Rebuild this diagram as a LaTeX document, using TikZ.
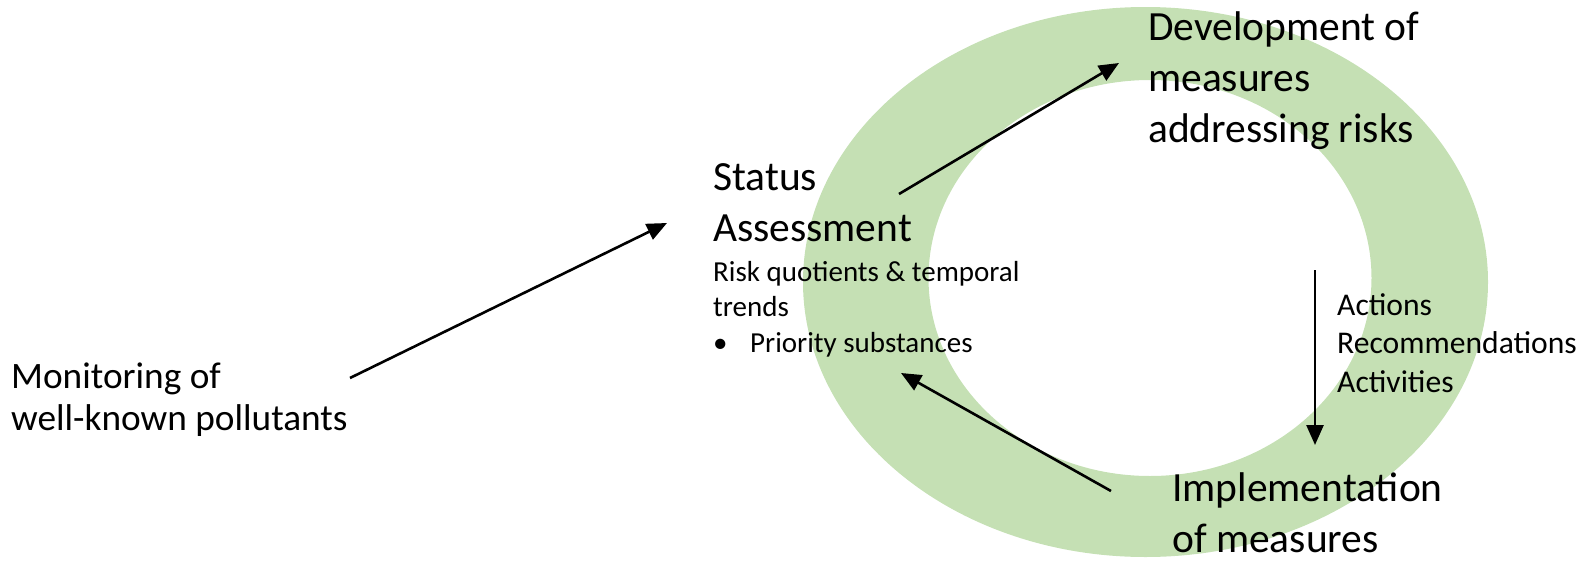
\documentclass[tikz,border=0pt]{standalone}
\usepackage{fontspec}
\setmainfont{Carlito}
\usetikzlibrary{arrows.meta}
\definecolor{ringgreen}{HTML}{C5E0B4}
\tikzset{
  txt/.style = {align=left, inner sep=0pt, anchor=base west},
  big_txt/.style = {txt, font=\fontsize{41.5}{51}\selectfont},
  mid_txt/.style = {txt, font=\fontsize{37.3}{42}\selectfont},
  sub_txt/.style = {txt, font=\fontsize{31.6}{38.5}\selectfont},
  small_txt/.style = {txt, font=\fontsize{29}{35.5}\selectfont},
  flow_arr/.style = {line width=2.6pt, -{Triangle[length=20pt,width=17pt]}}
}
\begin{document}
\begin{tikzpicture}[x=1pt,y=-1pt]
	\useasboundingbox (0,0) rectangle (1588,560);
	% green ring
	\fill[ringgreen, even odd rule] (1145.5,282) ellipse [x radius=342.5pt, y radius=275pt]
		(1150,278) ellipse [x radius=221.5pt, y radius=198pt];
	% texts (placed at the baseline of their last line)
	\node [mid_txt] (mon) at (11,430) {Monitoring of\\well-known pollutants};
	\node [big_txt] (status) at (713,241) {Status\\Assessment};
	\node [small_txt] (risk) at (713,352) {Risk quotients \& temporal\\trends\\\makebox[37pt][l]{\textbullet}Priority substances};
	\node [big_txt] (devel) at (1148,142) {Development of\\measures\\addressing risks};
	\node [sub_txt] (acts) at (1337,392) {Actions\\Recommendations\\Activities};
	\node [big_txt] (impl) at (1172,552) {Implementation\\of measures};
	% arrow ends
	\coordinate (mon_out) at (350,378);
	\coordinate (status_in) at (667,223);
	\coordinate (status_out) at (899,194);
	\coordinate (devel_in) at (1119,63);
	\coordinate (devel_out) at (1315,270);
	\coordinate (impl_in) at (1315,445);
	\coordinate (impl_out) at (1111,491);
	\coordinate (status_back) at (901,373);
	% arrows
	\draw [flow_arr] (mon_out) -- (status_in);
	\draw [flow_arr] (status_out) -- (devel_in);
	\draw [flow_arr] (devel_out) -- (impl_in);
	\draw [flow_arr] (impl_out) -- (status_back);
\end{tikzpicture}
\end{document}
